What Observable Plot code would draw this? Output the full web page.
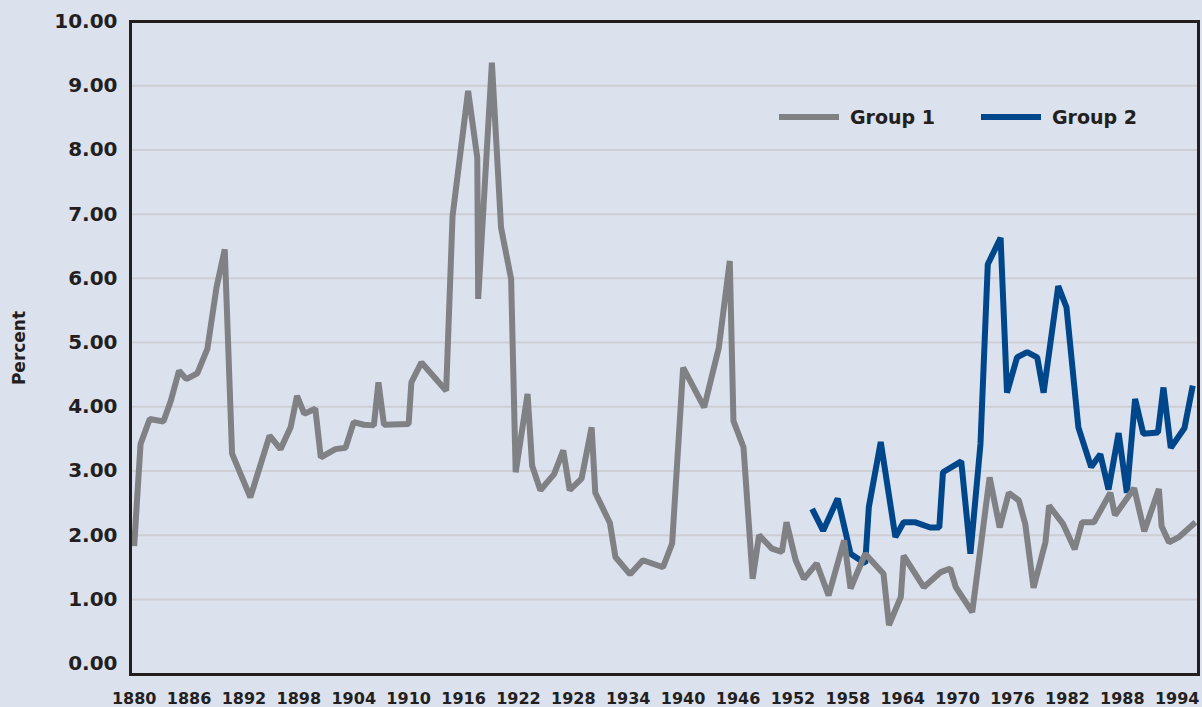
<!DOCTYPE html>
<html>
<head>
<meta charset="utf-8">
<script src="https://cdn.jsdelivr.net/npm/d3@7"></script>
<script src="https://cdn.jsdelivr.net/npm/@observablehq/plot@0.6"></script>
<style>
  html, body { margin: 0; padding: 0; background: #dce1ee; }
  #wrap { position: relative; width: 1202px; height: 707px; background: #dce1ee; font-family: "DejaVu Sans", sans-serif; }
  .legend-item { position: absolute; top: 106px; display: flex; align-items: center; font-weight: bold; font-size: 19px; color: #231f20; white-space: nowrap; }
  .swatch { width: 60px; height: 6px; margin-right: 11px; }
</style>
</head>
<body>
<div id="wrap"></div>
<script>
// ---- data ----
const seriesNames = ["Group 1", "Group 2"];
const seriesColors = ["#808184", "#00468b"];

const group1Years = [
  1880.0, 1880.7, 1881.7, 1883.2, 1884.0, 1884.9, 1885.7, 1886.9, 1888.0, 1889.0,
  1889.9, 1890.7, 1892.7, 1894.8, 1896.0, 1897.1, 1897.8, 1898.6, 1899.8, 1900.4,
  1902.0, 1903.1, 1904.0, 1905.1, 1906.2, 1906.7, 1907.3, 1910.0, 1910.3, 1911.4,
  1914.1, 1914.8, 1916.5, 1917.5, 1917.6, 1919.1, 1920.1, 1921.2, 1921.7, 1923.0,
  1923.5, 1924.4, 1925.9, 1926.9, 1927.6, 1928.9, 1930.0, 1930.4, 1932.0, 1932.6,
  1934.2, 1935.6, 1937.8, 1938.8, 1940.0, 1942.3, 1943.9, 1945.1, 1945.5, 1946.6,
  1947.6, 1948.3, 1949.7, 1950.8, 1951.3, 1952.3, 1953.2, 1954.6, 1955.9, 1957.6,
  1958.3, 1959.9, 1961.9, 1962.5, 1963.8, 1964.1, 1966.3, 1968.1, 1969.2, 1969.8,
  1971.6, 1973.5, 1974.6, 1975.6, 1976.7, 1977.4, 1978.3, 1979.6, 1980.0, 1981.5,
  1982.8, 1983.6, 1984.9, 1986.7, 1987.2, 1989.3, 1990.4, 1992.0, 1992.3, 1993.1,
  1994.2, 1996.0
];
const group1Values = [
  1.83, 3.42, 3.81, 3.77, 4.09, 4.56, 4.43, 4.52, 4.90, 5.86,
  6.45, 3.27, 2.59, 3.55, 3.34, 3.68, 4.17, 3.89, 3.97, 3.21,
  3.34, 3.36, 3.76, 3.72, 3.71, 4.38, 3.72, 3.73, 4.38, 4.69,
  4.25, 6.97, 8.92, 7.88, 5.68, 9.36, 6.79, 5.99, 2.98, 4.20,
  3.08, 2.70, 2.95, 3.32, 2.70, 2.88, 3.68, 2.66, 2.19, 1.66,
  1.39, 1.61, 1.50, 1.87, 4.61, 3.99, 4.92, 6.27, 3.78, 3.37,
  1.32, 2.00, 1.79, 1.74, 2.20, 1.61, 1.32, 1.56, 1.06, 1.92,
  1.17, 1.71, 1.40, 0.60, 1.04, 1.68, 1.19, 1.42, 1.48, 1.19,
  0.80, 2.90, 2.12, 2.66, 2.54, 2.17, 1.18, 1.89, 2.46, 2.18,
  1.78, 2.20, 2.20, 2.66, 2.31, 2.73, 2.06, 2.72, 2.14, 1.89,
  1.97, 2.20
];

const group2Years = [
  1954.1, 1955.3, 1956.9, 1958.3, 1959.9, 1960.3, 1961.6, 1963.2, 1964.1, 1965.4,
  1967.0, 1968.0, 1968.4, 1970.4, 1971.4, 1972.5, 1973.3, 1974.7, 1975.4, 1976.5,
  1977.6, 1978.7, 1979.4, 1981.0, 1981.9, 1983.2, 1984.6, 1985.6, 1986.5, 1987.6,
  1988.5, 1989.4, 1990.3, 1991.9, 1992.5, 1993.3, 1994.8, 1995.7
];
const group2Values = [
  2.41, 2.07, 2.57, 1.71, 1.56, 2.44, 3.45, 1.97, 2.20, 2.20,
  2.12, 2.12, 2.98, 3.15, 1.71, 3.42, 6.22, 6.63, 4.22, 4.77,
  4.85, 4.77, 4.22, 5.88, 5.55, 3.68, 3.06, 3.26, 2.71, 3.59,
  2.66, 4.12, 3.58, 3.60, 4.30, 3.36, 3.67, 4.33
];

const yTicks = [0, 1, 2, 3, 4, 5, 6, 7, 8, 9, 10];
const xTicks = [1880, 1886, 1892, 1898, 1904, 1910, 1916, 1922, 1928, 1934, 1940,
                1946, 1952, 1958, 1964, 1970, 1976, 1982, 1988, 1994];
const yLabel = "Percent";

// ---- tables built from the arrays ----
const group1 = group1Years.map((year, i) => ({series: seriesNames[0], year, value: group1Values[i]}));
const group2 = group2Years.map((year, i) => ({series: seriesNames[1], year, value: group2Values[i]}));
const gridValues = yTicks.filter(d => d > 0 && d < 10);

const lineStyle = {x: "year", y: "value", strokeWidth: 6, strokeLinejoin: "miter", strokeLinecap: "butt"};

const chart = Plot.plot({
  width: 1202,
  height: 707,
  marginLeft: 130,
  marginRight: 4,
  marginTop: 21,
  marginBottom: 33,
  style: {background: "#dce1ee", fontFamily: "DejaVu Sans", color: "#231f20", overflow: "visible"},
  x: {domain: [1879.6, 1996.33]},
  y: {domain: [-0.17, 10]},
  marks: [
    Plot.ruleY(gridValues, {stroke: "#cdced3", strokeWidth: 2}),
    Plot.line(group2, {...lineStyle, stroke: seriesColors[1]}),
    Plot.line(group1, {...lineStyle, stroke: seriesColors[0]}),
    Plot.frame({stroke: "#231f20", strokeWidth: 3}),
    Plot.axisY(yTicks, {tickSize: 0, tickPadding: 13, tickFormat: d3.format(".2f"),
      fontSize: 20, fontWeight: "bold", label: null}),
    Plot.axisY([], {fontSize: 17, fontWeight: "bold", label: yLabel, labelAnchor: "center",
      labelArrow: "none", labelOffset: 118, tickSize: 0}),
    Plot.axisX(xTicks, {tickSize: 0, tickPadding: 18, tickFormat: d => String(d),
      fontSize: 16, fontWeight: "bold", label: null})
  ]
});

const wrap = document.getElementById("wrap");
wrap.appendChild(chart);

// legend (inside plot area, top right)
const legendLeft = [779, 981];
seriesNames.forEach((name, i) => {
  const item = document.createElement("div");
  item.className = "legend-item";
  item.style.left = legendLeft[i] + "px";
  const sw = document.createElement("span");
  sw.className = "swatch";
  sw.style.background = seriesColors[i];
  const label = document.createElement("span");
  label.textContent = name;
  item.appendChild(sw);
  item.appendChild(label);
  wrap.appendChild(item);
});
</script>
</body>
</html>
